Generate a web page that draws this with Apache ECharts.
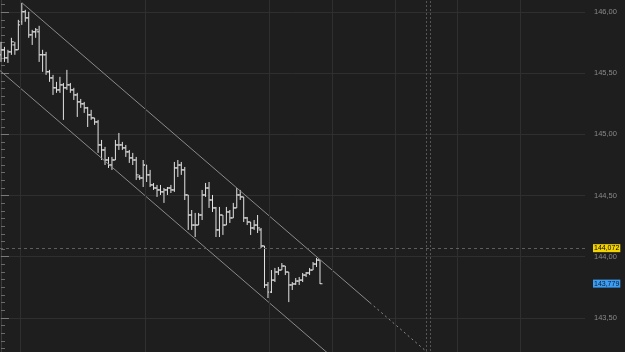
<!DOCTYPE html>
<html>
<head>
<meta charset="utf-8">
<script src="https://cdn.jsdelivr.net/npm/echarts@6/dist/echarts.min.js"></script>
<style>
html,body{margin:0;padding:0;background:#1e1e1e;width:625px;height:352px;overflow:hidden;position:relative;}
#c{width:625px;height:428px;position:absolute;left:0;top:-49px;}
</style>
</head>
<body>
<div id="c"></div>
<script>
// OHLC bars (one bar per index)
const openP = [
145.651,145.692,145.626,145.675,145.732,145.692,145.921,146.003,145.953,145.814,
145.839,145.839,145.651,145.651,145.512,145.462,145.381,145.364,145.405,145.381,
145.405,145.364,145.323,145.266,145.250,145.217,145.160,145.135,145.102,144.914,
144.873,144.791,144.750,144.791,144.914,144.914,144.890,144.857,144.808,144.791,
144.652,144.644,144.750,144.669,144.587,144.562,144.546,144.530,144.546,144.562,
144.546,144.726,144.750,144.710,144.505,144.341,144.259,144.259,144.341,144.505,
144.562,144.464,144.399,144.219,144.341,144.259,144.366,144.317,144.399,144.505,
144.489,144.317,144.284,144.235,144.259,144.219,144.088,143.769,143.711,143.809,
143.875,143.891,143.924,143.875,143.769,143.777,143.801,143.809,143.850,143.867,
143.891,143.940,143.973];
const highP = [
145.757,145.716,145.692,145.790,145.757,145.937,146.076,146.019,146.003,145.855,
145.870,145.888,145.692,145.675,145.528,145.487,145.430,145.471,145.421,145.528,
145.421,145.381,145.340,145.290,145.266,145.225,145.201,145.135,145.119,144.955,
144.898,144.816,144.816,144.955,145.012,144.939,144.914,144.873,144.849,144.816,
144.669,144.791,144.750,144.710,144.603,144.587,144.587,144.562,144.570,144.587,
144.775,144.791,144.775,144.734,144.505,144.382,144.358,144.358,144.546,144.603,
144.611,144.505,144.407,144.407,144.341,144.407,144.382,144.440,144.562,144.546,
144.489,144.325,144.284,144.300,144.341,144.235,144.088,143.793,143.891,143.908,
143.916,143.948,143.924,143.875,143.793,143.826,143.834,143.867,143.875,143.908,
143.957,143.990,143.973];
const lowP = [
145.593,145.593,145.585,145.651,145.651,145.692,145.896,145.921,145.790,145.732,
145.790,145.593,145.512,145.487,145.430,145.323,145.340,145.340,145.119,145.364,
145.340,145.282,145.143,145.217,145.176,145.061,145.119,145.078,144.849,144.791,
144.750,144.726,144.710,144.791,144.873,144.873,144.816,144.767,144.750,144.628,
144.628,144.570,144.611,144.570,144.546,144.489,144.505,144.440,144.505,144.521,
144.530,144.652,144.669,144.464,144.219,144.219,144.161,144.259,144.300,144.489,
144.399,144.366,144.161,144.161,144.178,144.259,144.276,144.317,144.399,144.464,
144.284,144.259,144.178,144.219,144.194,144.071,143.744,143.662,143.703,143.793,
143.850,143.891,143.850,143.629,143.728,143.769,143.769,143.793,143.834,143.850,
143.891,143.916,143.777];
const closeP = [
145.692,145.626,145.675,145.757,145.692,145.896,146.003,145.953,145.814,145.839,
145.855,145.651,145.651,145.512,145.462,145.381,145.364,145.405,145.381,145.405,
145.364,145.323,145.266,145.250,145.217,145.160,145.135,145.102,144.914,144.873,
144.791,144.750,144.791,144.914,144.914,144.890,144.857,144.808,144.791,144.669,
144.644,144.750,144.669,144.587,144.562,144.546,144.530,144.546,144.562,144.546,
144.726,144.750,144.710,144.505,144.341,144.259,144.259,144.341,144.505,144.562,
144.464,144.399,144.219,144.341,144.259,144.366,144.317,144.399,144.505,144.489,
144.317,144.284,144.235,144.259,144.235,144.088,143.769,143.711,143.809,143.875,
143.891,143.924,143.875,143.769,143.777,143.801,143.809,143.850,143.867,143.891,
143.940,143.973,143.779];

// price-scale tick labels
const yTicks = [143.5, 144.0, 144.5, 145.0, 145.5, 146.0];

// channel lines: [barIndex, price]
const upperChannel = [[6.06, 146.076], [106.4, 143.624]];
const upperChannelExt = [[106.4, 143.624], [123.1, 143.215]];
const lowerChannel = [[-0.29, 145.522], [101.2, 143.041]];

// price badges
const askPrice = 144.072;
const bidPrice = 143.779;

const n = Math.min(openP.length, highP.length, lowP.length, closeP.length);
const barData = [];
for (let i = 0; i < n; i++) barData.push([i, openP[i], closeP[i], lowP[i], highP[i]]);

const fmt = v => v.toFixed(2).replace('.', ',');

const chart = echarts.init(document.getElementById('c'), null, {renderer: 'canvas'});
const barColor = '#e4e4e4';
const gridLineColor = '#2f2f2f';
const vGrid = [5.48, 41.53, 77.29, 95.46, 113.63, 131.51, 149.68];
const fontFam = 'Liberation Sans';

chart.setOption({
  backgroundColor: '#1e1e1e',
  animation: false,
  grid: {left: 0, right: 40, top: 0, bottom: 0, containLabel: false},
  xAxis: {
    type: 'value', min: -0.2884, max: 168.43,
    axisLine: {show: false}, axisTick: {show: false}, axisLabel: {show: false},
    splitLine: {show: false}
  },
  yAxis: {
    type: 'value', position: 'right', min: 143, max: 146.5, interval: 0.5,
    axisLine: {show: true, lineStyle: {color: '#3c3c3c', width: 1}},
    axisTick: {show: true, length: 8, lineStyle: {color: '#7a7a7a'}},
    minorTick: {show: true, splitNumber: 8, length: 4, lineStyle: {color: '#6a6a6a'}},
    splitLine: {show: true, lineStyle: {color: gridLineColor, width: 1}},
    axisLabel: {
      color: '#8a8a8a', fontSize: 7.5, fontFamily: fontFam, margin: 9,
      formatter: v => (yTicks.some(t => Math.abs(t - v) < 1e-6) ? fmt(v) : '')
    }
  },
  series: [
    {
      type: 'line', data: [], silent: true,
      markLine: {
        silent: true, symbol: 'none', animation: false,
        label: {show: false},
        lineStyle: {color: gridLineColor, type: 'solid', width: 1},
        data: vGrid.map(v => ({xAxis: v}))
      }
    },
    {
      type: 'line', data: [], silent: true,
      markLine: {
        silent: true, symbol: 'none', animation: false,
        data: [
          {yAxis: askPrice,
            lineStyle: {color: '#5e5e5e', type: [3, 3], width: 1},
            label: {show: true, position: 'end', distance: 8, formatter: () => askPrice.toFixed(3).replace('.', ','),
              backgroundColor: '#f4d400', color: '#000', fontSize: 7, fontFamily: fontFam, padding: [1, 1, 0, 1]}},
          {yAxis: bidPrice,
            lineStyle: {color: 'rgba(0,0,0,0)', width: 1},
            label: {show: true, position: 'end', distance: 8, formatter: () => bidPrice.toFixed(3).replace('.', ','),
              backgroundColor: '#3d9df2', color: '#0a1a30', fontSize: 7, fontFamily: fontFam, padding: [1, 1, 0, 1]}},
          {xAxis: 122.57, lineStyle: {color: '#555', type: [2, 2], width: 1}, label: {show: false}},
          {xAxis: 123.72, lineStyle: {color: '#555', type: [2, 2], width: 1}, label: {show: false}}
        ]
      }
    },
    {
      type: 'line', data: upperChannel, symbol: 'none', silent: true,
      lineStyle: {color: '#8a8a8a', width: 1}
    },
    {
      type: 'line', data: upperChannelExt, symbol: 'none', silent: true,
      lineStyle: {color: '#8a8a8a', width: 1, type: [2, 3]}
    },
    {
      type: 'line', data: lowerChannel, symbol: 'none', silent: true,
      lineStyle: {color: '#8a8a8a', width: 1}
    },
    {
      type: 'custom', data: barData,
      encode: {x: 0, y: [1, 2, 3, 4]},
      renderItem: (params, api) => {
        const i = api.value(0);
        const pO = api.coord([i, api.value(1)]);
        const pC = api.coord([i, api.value(2)]);
        const pL = api.coord([i, api.value(3)]);
        const pH = api.coord([i, api.value(4)]);
        const x = pH[0];
        const st = {stroke: barColor, lineWidth: 1};
        return {
          type: 'group',
          children: [
            {type: 'line', shape: {x1: x, y1: pH[1], x2: x, y2: pL[1]}, style: st},
            {type: 'line', shape: {x1: x - 2.5, y1: pO[1], x2: x, y2: pO[1]}, style: st},
            {type: 'line', shape: {x1: x, y1: pC[1], x2: x + 2.5, y2: pC[1]}, style: st}
          ]
        };
      }
    }
  ]
});
</script>
</body>
</html>
